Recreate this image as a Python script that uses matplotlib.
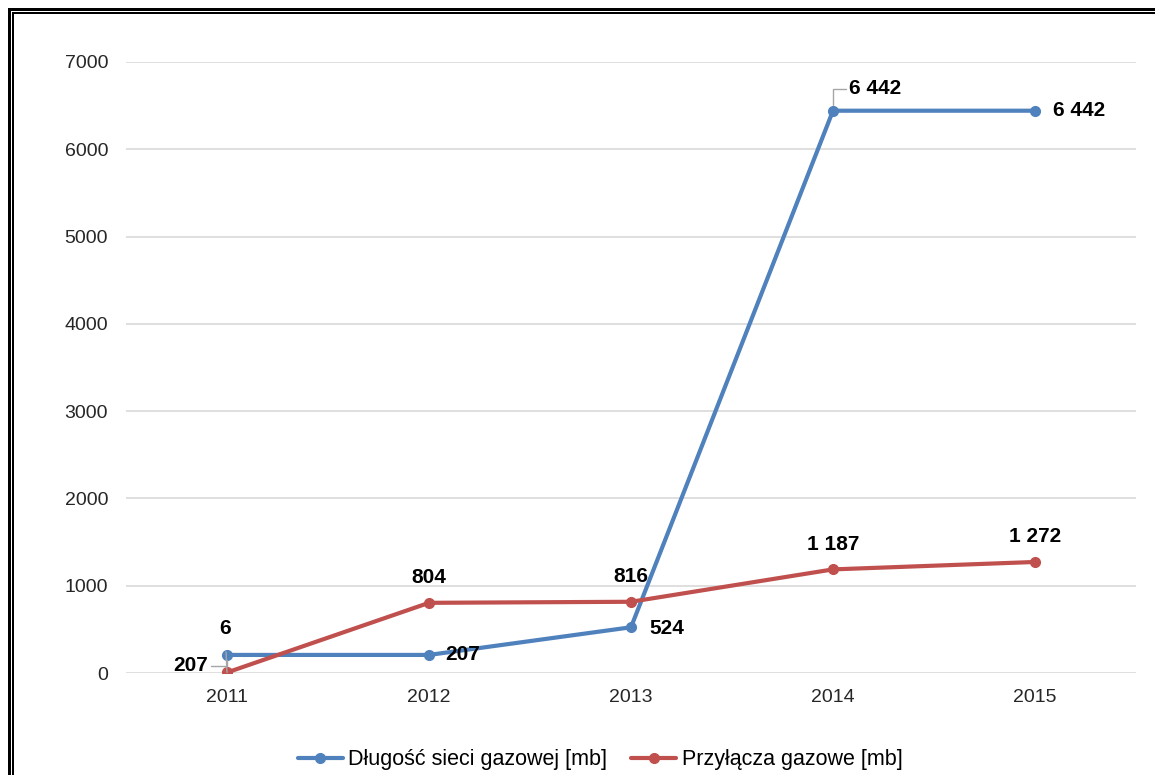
import matplotlib
matplotlib.use("Agg")
import matplotlib.pyplot as plt
from matplotlib.lines import Line2D

plt.rcParams['font.family'] = ['Liberation Sans', 'DejaVu Sans']

years = ["2011", "2012", "2013", "2014", "2015"]
siec = [207, 207, 524, 6442, 6442]
przylacza = [6, 804, 816, 1187, 1272]
siec_labels = ["207", "207", "524", "6 442", "6 442"]
przyl_labels = ["6", "804", "816", "1 187", "1 272"]
yticks = [0, 1000, 2000, 3000, 4000, 5000, 6000, 7000]
series_names = ["Długość sieci gazowej [mb]", "Przyłącza gazowe [mb]"]

BLUE = "#4f81bd"
RED = "#c0504d"

W, H = 1155, 775
PT = 0.72  # points per pixel at dpi 100
fig = plt.figure(figsize=(W / 100, H / 100), dpi=100)
fig.patch.set_facecolor("white")

ax = fig.add_axes([126 / W, 1 - 673 / H, (1136 - 126) / W, (673 - 62) / H])
x = list(range(len(years)))

ax.plot(x, siec, color=BLUE, lw=3.0, marker="o", ms=7, zorder=3,
        label=series_names[0], solid_capstyle="round")
ax.plot(x, przylacza, color=RED, lw=3.0, marker="o", ms=7, zorder=3,
        label=series_names[1], solid_capstyle="round")

ax.set_xlim(-0.5, len(years) - 0.5)
ax.set_ylim(0, 7000)
ax.set_yticks(yticks)
ax.set_yticklabels([str(v) for v in yticks])
ax.set_xticks(x)
ax.set_xticklabels(years)
ax.grid(axis="y", color="#d9d9d9", lw=1.2)
ax.set_axisbelow(True)
for s in ax.spines.values():
    s.set_visible(False)
ax.tick_params(axis="both", length=0, labelsize=14, colors="#262626")
ax.tick_params(axis="y", pad=18 * PT)
ax.tick_params(axis="x", pad=16 * PT)

lbl_kw = dict(textcoords="offset pixels", fontsize=15, fontweight="bold",
              color="#000000", va="center", zorder=5)
lead = dict(arrowstyle="-", color="#a6a6a6", lw=1, shrinkA=0, shrinkB=4)

# blue series labels
ax.annotate(siec_labels[0], (0, siec[0]), xytext=(-19, -11), ha="right",
            arrowprops=dict(lead, connectionstyle="angle,angleA=0,angleB=90,rad=0"), **lbl_kw)
ax.annotate(siec_labels[1], (1, siec[1]), xytext=(16, 0), ha="left", **lbl_kw)
ax.annotate(siec_labels[2], (2, siec[2]), xytext=(18, -1), ha="left", **lbl_kw)
ax.annotate(siec_labels[3], (3, siec[3]), xytext=(16, 22), ha="left",
            arrowprops=dict(lead, shrinkB=4, connectionstyle="angle,angleA=0,angleB=90,rad=0"),
            **lbl_kw)
ax.annotate(siec_labels[4], (4, siec[4]), xytext=(18, 0), ha="left", **lbl_kw)

# red series labels
ax.annotate(przyl_labels[0], (0, przylacza[0]), xytext=(-2, 44), ha="center",
            arrowprops=dict(lead, shrinkA=8, shrinkB=0), **lbl_kw)
for i in range(1, len(years)):
    ax.annotate(przyl_labels[i], (i, przylacza[i]), xytext=(0, 25), ha="center", **lbl_kw)

leg = fig.legend(loc="center", bbox_to_anchor=(600 / W, 1 - 760 / H), ncol=2,
                 frameon=False, fontsize=15.5, handlelength=2.1, handletextpad=0.25,
                 columnspacing=1.1)
for t in leg.get_texts():
    t.set_color("#000000")

# double border at top and left
def fl(xs, ys, lw_px):
    fig.add_artist(Line2D([v / W for v in xs], [1 - v / H for v in ys],
                          color="black", lw=lw_px * PT, transform=fig.transFigure,
                          solid_capstyle="butt", snap=False))

fl([8, W], [9.5, 9.5], 3)
fl([9.5, 9.5], [8, H], 3)
fl([12, W], [13, 13], 2)
fl([13, 13], [12, H], 2)

fig.savefig("out.png", dpi=100, facecolor="white")
